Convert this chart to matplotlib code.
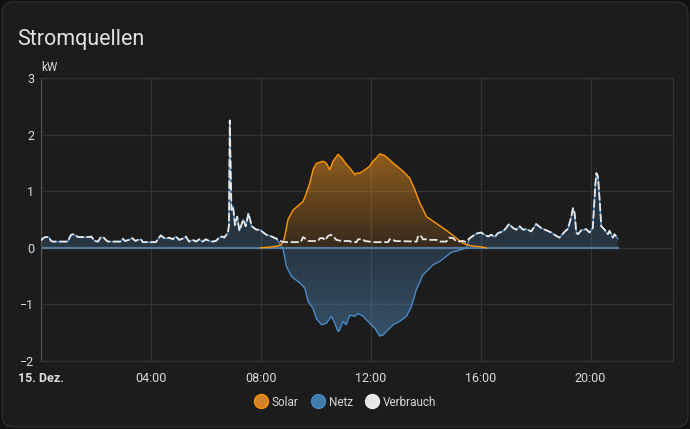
import numpy as np
import matplotlib
matplotlib.use("Agg")
import matplotlib.pyplot as plt
from matplotlib.colors import to_rgb
from matplotlib.lines import Line2D
from matplotlib.patches import FancyBboxPatch
from matplotlib.transforms import IdentityTransform

plt.rcParams['font.family'] = ['Roboto', 'DejaVu Sans']

# ------------------ Data (hours of 15. Dez., kW) ------------------
verbrauch_t = [0.0, 0.08, 0.16, 0.28, 0.37, 0.43, 0.98, 1.08, 1.15, 1.22, 1.35, 1.77, 1.83,
               1.95, 2.08, 2.16, 2.28, 2.4, 2.46, 2.89, 2.98, 3.06, 3.2, 3.32, 3.44, 3.52,
               3.64, 3.7, 4.18, 4.36, 4.46, 4.55, 4.67, 4.79, 4.91, 5.03, 5.15, 5.27, 5.39,
               5.52, 5.64, 5.76, 5.88, 6.0, 6.12, 6.24, 6.36, 6.49, 6.58, 6.67, 6.73, 6.8,
               6.84, 6.87, 6.93, 6.99, 7.06, 7.14, 7.22, 7.36, 7.45, 7.55, 7.67, 7.84, 7.96,
               8.2, 8.39, 8.57, 8.75, 8.9, 9.45, 9.54, 9.62, 9.72, 10.08, 10.15, 10.27,
               10.33, 10.45, 10.55, 10.64, 10.75, 10.94, 11.24, 11.3, 11.48, 11.54, 11.72,
               11.78, 11.96, 12.03, 12.63, 12.69, 12.81, 12.87, 13.67, 13.73, 13.84, 13.9,
               14.03, 14.09, 14.39, 14.51, 14.75, 14.87, 15.0, 15.12, 15.36, 15.48, 15.6,
               15.84, 16.02, 16.14, 16.27, 16.39, 16.51, 16.63, 16.81, 16.93, 17.03, 17.18,
               17.3, 17.42, 17.54, 17.66, 17.84, 18.02, 18.2, 18.39, 18.57, 18.75, 18.87,
               19.05, 19.18, 19.3, 19.36, 19.42, 19.48, 19.54, 19.66, 19.84, 19.96, 20.08,
               20.17, 20.21, 20.27, 20.33, 20.39, 20.51, 20.63, 20.69, 20.81, 20.87, 20.99]
verbrauch_kw = [0.13, 0.17, 0.19, 0.19, 0.12, 0.11, 0.11, 0.22, 0.24, 0.23, 0.19, 0.19, 0.2,
                0.12, 0.11, 0.18, 0.18, 0.12, 0.11, 0.11, 0.16, 0.12, 0.14, 0.17, 0.12, 0.14,
                0.15, 0.1, 0.1, 0.22, 0.18, 0.16, 0.18, 0.15, 0.2, 0.14, 0.16, 0.2, 0.11,
                0.14, 0.11, 0.15, 0.11, 0.15, 0.12, 0.11, 0.12, 0.18, 0.2, 0.18, 0.22, 0.26,
                0.4, 2.25, 0.67, 0.73, 0.4, 0.55, 0.3, 0.5, 0.38, 0.61, 0.38, 0.32, 0.32,
                0.23, 0.2, 0.16, 0.11, 0.1, 0.1, 0.19, 0.16, 0.12, 0.12, 0.17, 0.17,
                0.13, 0.21, 0.23, 0.2, 0.14, 0.12, 0.12, 0.1, 0.1, 0.15, 0.15,
                0.12, 0.11, 0.1, 0.1, 0.15, 0.15, 0.12, 0.11, 0.22, 0.2, 0.15,
                0.15, 0.14, 0.14, 0.11, 0.11, 0.18, 0.17, 0.11, 0.12, 0.1, 0.17,
                0.25, 0.27, 0.23, 0.2, 0.23, 0.19, 0.26, 0.29, 0.35, 0.42, 0.35,
                0.32, 0.38, 0.32, 0.33, 0.29, 0.42, 0.35, 0.31, 0.27, 0.21, 0.18,
                0.28, 0.34, 0.55, 0.7, 0.61, 0.27, 0.24, 0.31, 0.33, 0.27, 0.35,
                1.09, 1.32, 1.26, 0.85, 0.38, 0.32, 0.24, 0.3, 0.18, 0.24, 0.16]

solar_t = [8.0, 8.3, 8.6, 8.75, 8.81, 8.87, 8.99, 9.18, 9.54, 9.66, 9.78, 9.9, 10.02, 10.27,
           10.39, 10.51, 10.63, 10.81, 10.94, 11.12, 11.24, 11.3, 11.42, 11.48, 11.6, 11.79,
           11.96, 12.08, 12.21, 12.33, 12.51, 12.81, 13.18, 13.42, 13.6, 13.79, 14.03, 14.39,
           14.75, 15.12, 15.36, 15.6, 15.96, 16.2]
solar_kw = [0.0, 0.01, 0.03, 0.06, 0.1, 0.2, 0.5, 0.67, 0.82, 0.97, 1.14, 1.38, 1.49, 1.53,
            1.49, 1.38, 1.53, 1.65, 1.59, 1.47, 1.41, 1.37, 1.29, 1.32, 1.32, 1.38,
            1.44, 1.53, 1.59, 1.66, 1.63, 1.5, 1.35, 1.23, 1.03, 0.79, 0.55, 0.43,
            0.31, 0.17, 0.08, 0.04, 0.02, 0.0]

# grid feed-in during the day (night values follow Verbrauch)
netz_day_t = [8.75, 8.81, 8.93, 9.12, 9.42, 9.6, 9.72, 9.9, 10.02, 10.21, 10.39, 10.57, 10.69,
              10.81, 10.87, 10.99, 11.11, 11.24, 11.42, 11.54, 11.72, 11.84, 12.02, 12.15,
              12.33, 12.45, 12.63, 12.81, 13.05, 13.3, 13.48, 13.66, 13.9, 14.15, 14.27,
              14.51, 14.75, 14.93, 15.24, 15.48]
netz_day_kw = [0.03, -0.02, -0.33, -0.51, -0.62, -0.71, -0.95, -1.07, -1.25, -1.36, -1.33,
               -1.21, -1.33, -1.48, -1.45, -1.3, -1.36, -1.19, -1.21, -1.16, -1.21, -1.27,
               -1.36, -1.42, -1.56, -1.54, -1.45, -1.36, -1.3, -1.21, -1.04, -0.74, -0.48,
               -0.36, -0.3, -0.24, -0.15, -0.08, -0.04, 0.0]

x_ticks = [0, 4, 8, 12, 16, 20]
x_labels = ["15. Dez.", "04:00", "08:00", "12:00", "16:00", "20:00"]

BG = "#1c1c1c"
SOLAR = "#ff9800"
NETZ = "#4a8ac4"
VERBRAUCH = "#e8e8e8"

verbrauch_t = np.array(verbrauch_t)
verbrauch_kw = np.array(verbrauch_kw)
night = verbrauch_t < 8.7
evening = verbrauch_t > 15.5
netz_t = np.concatenate([verbrauch_t[night], netz_day_t, verbrauch_t[evening]])
netz_kw = np.concatenate([verbrauch_kw[night], netz_day_kw, verbrauch_kw[evening]])
solar_t = np.array(solar_t)
solar_kw = np.array(solar_kw)


def gradient_fill(ax, x, y, color, ys, alphas, zorder):
    poly = ax.fill_between(x, y, 0, color="none", lw=0)
    path = poly.get_paths()[0]
    yy = np.linspace(3, -2, 400)
    rgba = np.zeros((400, 1, 4))
    rgba[..., :3] = to_rgb(color)
    rgba[:, 0, 3] = np.interp(yy, ys, alphas)
    im = ax.imshow(rgba, extent=[x.min(), x.max(), -2, 3], aspect="auto",
                   origin="upper", zorder=zorder, interpolation="bilinear")
    im.set_clip_path(path, transform=ax.transData)


# ------------------ Plot ------------------
fig = plt.figure(figsize=(6.9, 4.29), dpi=100)
fig.patch.set_facecolor("#111111")
card = FancyBboxPatch((2, 2), 686, 425, boxstyle="round,pad=0,rounding_size=12",
                      transform=IdentityTransform(), facecolor=BG, edgecolor="#2c2c2c",
                      lw=1, zorder=-10)
fig.patches.append(card)

ax = fig.add_axes([41 / 690, 1 - 361 / 429, 632 / 690, 283 / 429])
ax.set_facecolor("none")

gradient_fill(ax, netz_t, netz_kw, "#4f86b8", [-1.6, 0, 1.4], [0.5, 0.25, 0.2], 1)
gradient_fill(ax, solar_t, solar_kw, "#e08a1e", [0, 1.7], [0.13, 0.6], 1.5)

ax.plot([0, 21], [0, 0], color="#56789a", lw=1.6, zorder=2.5)
ax.plot(netz_t, netz_kw, color=NETZ, lw=1.0, zorder=3)
ax.plot(solar_t, solar_kw, color=SOLAR, lw=1.0, zorder=3)
ax.plot(verbrauch_t, verbrauch_kw, color=VERBRAUCH, lw=1.3, dashes=(4.5, 1.5), zorder=4)

ax.set_xlim(0, 23)
ax.set_ylim(-2, 3)
ax.set_xticks(x_ticks)
ax.set_xticklabels(x_labels)
ax.get_xticklabels()[0].set_fontweight("bold")
ax.set_yticks(range(-2, 4))
ax.grid(True, color="#333333", lw=1)
ax.set_axisbelow(True)
for s in ["top", "right", "bottom"]:
    ax.spines[s].set_color("#333333")
ax.spines["left"].set_color("#555555")
ax.tick_params(length=0, colors="#dcdcdc", labelsize=9)
ax.tick_params(axis="x", pad=8)
ax.tick_params(axis="y", pad=5)
ax.text(0.0, 1.015, "kW", transform=ax.transAxes, color="#dcdcdc", fontsize=8.5, va="bottom")

fig.text(17 / 690, 1 - 45 / 429, "Stromquellen", color="#e1e1e1", fontsize=15.5, va="baseline")

handles = [
    Line2D([], [], ls="none", marker="o", markersize=10, markerfacecolor="#d4822a",
           markeredgecolor=SOLAR, label="Solar"),
    Line2D([], [], ls="none", marker="o", markersize=10, markerfacecolor="#3f7cad",
           markeredgecolor=NETZ, label="Netz"),
    Line2D([], [], ls="none", marker="o", markersize=10, markerfacecolor="#e6e6e6",
           markeredgecolor="#f2f2f2", label="Verbrauch"),
]
fig.legend(handles=handles, loc="center", bbox_to_anchor=(0.5, 1 - 402 / 429), ncol=3,
           frameon=False, fontsize=8.5, labelcolor="#d8d8d8", handletextpad=0.35,
           columnspacing=1.0, handlelength=1.2)

fig.savefig("out.png", dpi=100, facecolor=fig.get_facecolor())
